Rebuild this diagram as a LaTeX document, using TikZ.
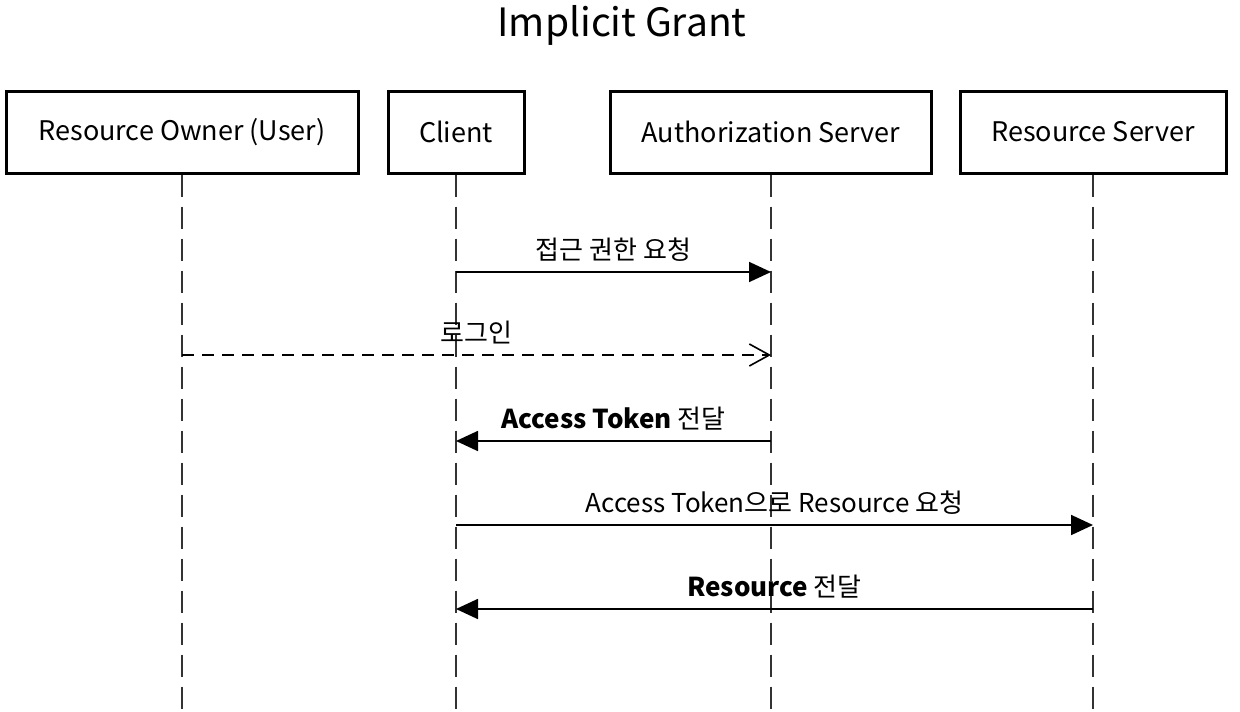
\documentclass[tikz,border=0pt]{standalone}
\usepackage{fontspec}
\setmainfont{Noto Sans CJK KR}
\usetikzlibrary{arrows.meta}
\begin{document}
\begin{tikzpicture}[x=1pt,y=-1pt,
  actor/.style={draw,line width=3pt,minimum height=82pt,inner sep=0pt,font=\fontsize{27}{30}\selectfont},
  life/.style={line width=1.6pt,dash pattern=on 22pt off 10pt,draw=black!80},
  msg/.style={line width=1.8pt,-{Triangle[length=22pt,width=20pt]}},
  reply/.style={line width=1.8pt,dash pattern=on 12pt off 8pt,-{Straight Barb[length=20pt,width=22pt,line width=1.6pt]}},
  lbl/.style={font=\fontsize{26}{29}\selectfont,anchor=base,inner sep=0pt}]
\useasboundingbox (0,0) rectangle (1240,712);
\node[font=\fontsize{39}{43}\selectfont] (title) at (622,25) {Implicit Grant};
\node[actor,minimum width=352pt] (ro) at (182,132) {Resource Owner (User)};
\node[actor,minimum width=136pt] (cl) at (456,132) {Client};
\node[actor,minimum width=321pt] (au) at (771,132) {Authorization Server};
\node[actor,minimum width=266pt] (rs) at (1093,132) {Resource Server};
\coordinate (bot) at (0,712);
\foreach \n in {ro,cl,au,rs} \draw[life] (\n.south) -- (\n.south |- bot);
\coordinate (m1) at (0,272);
\coordinate (m2) at (0,355);
\coordinate (m3) at (0,441);
\coordinate (m4) at (0,525);
\coordinate (m5) at (0,609);
\draw[msg] (cl |- m1) -- node[lbl,above=10pt] (l1) {접근 권한 요청} (au |- m1);
\draw[reply] (ro |- m2) -- node[lbl,above=10pt] (l2) {로그인} (au |- m2);
\draw[msg] (au |- m3) -- node[lbl,above=10pt] (l3) {\textbf{Access Token} 전달} (cl |- m3);
\draw[msg] (cl |- m4) -- node[lbl,above=10pt] (l4) {Access Token으로 Resource 요청} (rs |- m4);
\draw[msg] (rs |- m5) -- node[lbl,above=10pt] (l5) {\textbf{Resource} 전달} (cl |- m5);
\end{tikzpicture}
\end{document}
